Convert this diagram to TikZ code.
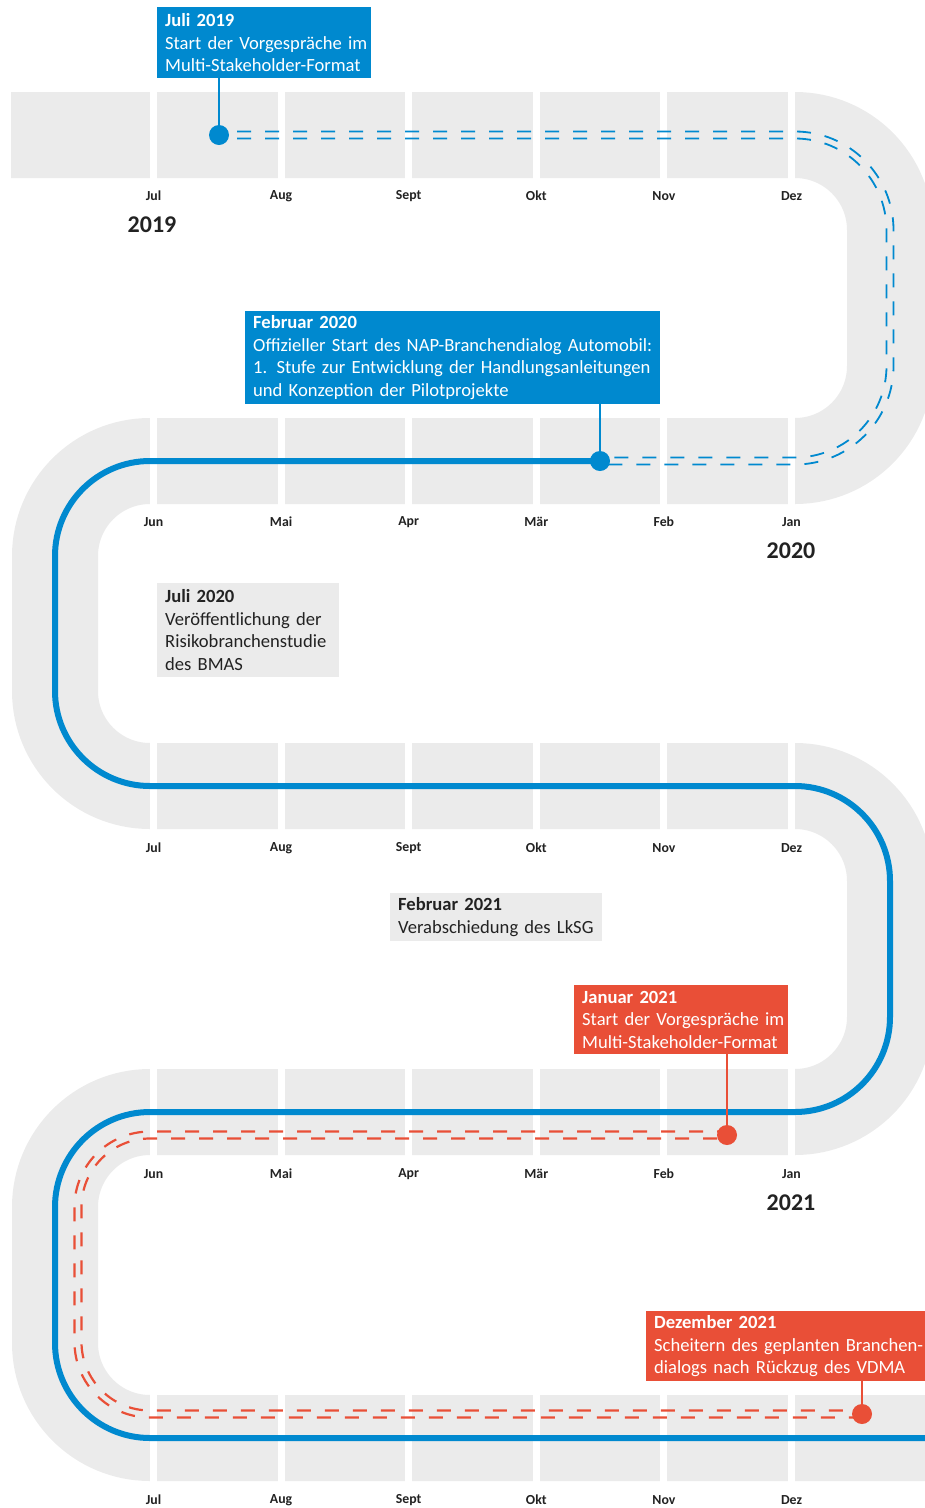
\documentclass[tikz,border=0pt]{standalone}
\usepackage{fontspec}
\setmainfont{Carlito}[WordSpace=0.8]
\usetikzlibrary{calc}
\definecolor{tlblue}{RGB}{0,137,207}
\definecolor{tlred}{RGB}{233,79,55}
\definecolor{tlgrey}{RGB}{235,235,235}
\definecolor{tltext}{RGB}{34,34,34}
\tikzset{
  track/.style={draw=tlgrey, line width=86pt},
  month/.style={font=\bfseries\fontsize{13.8}{15}\selectfont, text=tltext},
  yearlbl/.style={font=\bfseries\fontsize{24}{28}\selectfont, text=tltext},
  bdot/.style={circle, fill=tlblue, minimum size=20pt, inner sep=0pt},
  rdot/.style={circle, fill=tlred, minimum size=20pt, inner sep=0pt},
  bdash/.style={draw=tlblue, line width=1.8pt, dash pattern=on 14pt off 14pt, dash phase=10pt},
  rdash/.style={draw=tlred, line width=2.2pt, dash pattern=on 14pt off 14pt},
  bline/.style={draw=tlblue, line width=6pt},
  stem/.style={line width=2pt},
  evbox/.style={anchor=north west, inner xsep=8pt, inner ysep=0pt, align=left,
    font=\fontsize{18.6}{22.5}\selectfont},
  bluebox/.style={evbox, fill=tlblue, text=white},
  redbox/.style={evbox, fill=tlred, text=white},
  greybox/.style={evbox, fill=tlgrey, text=tltext},
}
\begin{document}
\begin{tikzpicture}[x=1pt,y=-1pt]
\useasboundingbox (0,0) rectangle (925,1508);
\clip (0,0) rectangle (925,1508);
% track
\draw[track, rounded corners=95pt] (11,135) -- (890,135) -- (890,461) -- (55,461) -- (55,786)
  -- (890,786) -- (890,1112) -- (55,1112) -- (55,1438) -- (945,1438);
\foreach \yy in {135,461,786,1112,1438}{
  \foreach \k in {0,...,5}{
    \fill[white] ({150+127.6*\k},{\yy-44}) rectangle ++(7,88);
  }
}
% month labels
\foreach \m [count=\i from 0] in {Jul,Aug,Sept,Okt,Nov,Dez}{
  \node[month] (ma\i) at ({153.5+127.6*\i},196) {\m};
  \node[month] (mc\i) at ({153.5+127.6*\i},848) {\m};
  \node[month] (me\i) at ({153.5+127.6*\i},1500) {\m};
}
\foreach \m [count=\i from 0] in {Jun,Mai,Apr,Mär,Feb,Jan}{
  \node[month] (mb\i) at ({153.5+127.6*\i},522) {\m};
  \node[month] (md\i) at ({153.5+127.6*\i},1174) {\m};
}
\node[yearlbl] (y2019) at (152,225) {2019};
\node[yearlbl] (y2020) at (791,551) {2020};
\node[yearlbl] (y2021) at (791,1203) {2021};
% dots (positions)
\coordinate (d1) at (219,135);
\coordinate (d2) at (600,461);
\coordinate (r1) at (727,1135);
\coordinate (r2) at (862,1414);
\coordinate (bend) at (940,1438);
% blue dashed double line
\draw[bdash, rounded corners=98.5pt] ($(d1)+(0,-3.5)$) -- (893.5,131.5) -- (893.5,464.5) -- ($(d2)+(0,3.5)$);
\draw[bdash, rounded corners=91.5pt] ($(d1)+(0,3.5)$) -- (886.5,138.5) -- (886.5,457.5) -- ($(d2)+(0,-3.5)$);
% blue solid line
\draw[bline, rounded corners=95pt] (d2) -- (55,461) -- (55,786) -- (890,786) -- (890,1112)
  -- (55,1112) -- (55,1438) -- (bend);
% red dashed double line
\draw[rdash, dash phase=4pt, rounded corners=75.5pt] ($(r1)+(0,-3.5)$) -- (74.5,1131.5) -- (74.5,1417.5) -- ($(r2)+(0,3.5)$);
\draw[rdash, dash phase=18pt, rounded corners=68.5pt] ($(r1)+(0,3.5)$) -- (81.5,1138.5) -- (81.5,1410.5) -- ($(r2)+(0,-3.5)$);
% boxes
\node[bluebox, minimum width=214pt, minimum height=71pt, text width=198pt] (b1) at (157,7)
  {\mbox{\textbf{Juli 2019}}\\\mbox{Start der Vorgespräche im}\\\mbox{Multi-Stakeholder-Format}};
\node[bluebox, minimum width=415pt, minimum height=93pt, text width=399pt] (b2) at (245,311)
  {\mbox{\textbf{Februar 2020}}\\\mbox{Offizieller Start des NAP-Branchendialog Automobil:}\\\mbox{1. Stufe zur Entwicklung der Handlungsanleitungen}\\\mbox{und Konzeption der Pilotprojekte}};
\node[greybox, minimum width=182pt, minimum height=94pt, text width=166pt] (b3) at (157,583)
  {\mbox{\textbf{Juli 2020}}\\\mbox{Veröffentlichung der}\\\mbox{Risikobranchenstudie}\\\mbox{des BMAS}};
\node[greybox, minimum width=212pt, minimum height=48pt, text width=196pt] (b4) at (390,893)
  {\mbox{\textbf{Februar 2021}}\\\mbox{Verabschiedung des LkSG}};
\node[redbox, minimum width=214pt, minimum height=69pt, text width=198pt] (b5) at (574,985)
  {\mbox{\textbf{Januar 2021}}\\\mbox{Start der Vorgespräche im}\\\mbox{Multi-Stakeholder-Format}};
\node[redbox, minimum width=300pt, minimum height=70pt, text width=284pt] (b6) at (646,1311)
  {\mbox{\textbf{Dezember 2021}}\\\mbox{Scheitern des geplanten Branchen-}\\\mbox{dialogs nach Rückzug des VDMA}};
% stems
\draw[stem, tlblue] (b1.south -| d1) -- (d1);
\draw[stem, tlblue] (b2.south -| d2) -- (d2);
\draw[stem, tlred] (b5.south -| r1) -- (r1);
\draw[stem, tlred] (b6.south -| r2) -- (r2);
% dots
\node[bdot] (n1) at (d1) {};
\node[bdot] (n2) at (d2) {};
\node[rdot] (n3) at (r1) {};
\node[rdot] (n4) at (r2) {};
\end{tikzpicture}
\end{document}
